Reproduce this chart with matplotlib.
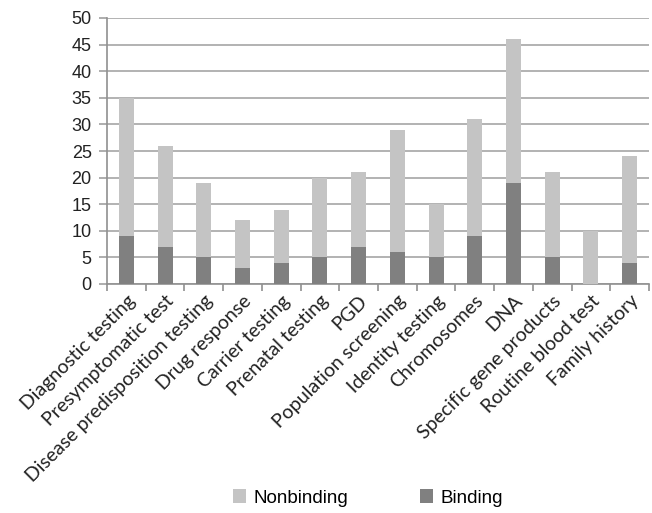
import matplotlib
matplotlib.use("Agg")
import matplotlib.pyplot as plt
import numpy as np

categories = ["Diagnostic testing", "Presymptomatic test", "Disease predisposition testing",
              "Drug response", "Carrier testing", "Prenatal testing", "PGD",
              "Population screening", "Identity testing", "Chromosomes", "DNA",
              "Specific gene products", "Routine blood test", "Family history"]
binding = [9, 7, 5, 3, 4, 5, 7, 6, 5, 9, 19, 5, 0, 4]
totals = [35, 26, 19, 12, 14, 20, 21, 29, 15, 31, 46, 21, 10, 24]
nonbinding = [t - b for t, b in zip(totals, binding)]
yticks = [0, 5, 10, 15, 20, 25, 30, 35, 40, 45, 50]

plt.rcParams['font.family'] = ['Liberation Sans', 'DejaVu Sans']

fig = plt.figure(figsize=(6.52, 5.13), dpi=100)
ax = fig.add_axes([107/652, 1-284/513, (649-107)/652, (284-18)/513])

x = np.arange(len(categories))
w = 0.39
ax.bar(x, binding, w, color='#808080', zorder=3, label='Binding')
ax.bar(x, nonbinding, w, bottom=binding, color='#c4c4c4', zorder=3, label='Nonbinding')

ax.set_xlim(-0.5, len(categories) - 0.5)
ax.set_ylim(0, 50)
ax.set_yticks(yticks)
ax.set_yticklabels([str(v) for v in yticks], fontsize=13, color='#222222')
ax.yaxis.grid(True, color='#a6a6a6', linewidth=1.2, zorder=0)
ax.tick_params(axis='y', length=6, width=1.2, color='#a0a0a0', pad=5)

ax.set_xticks(x)
ax.set_xticklabels(categories, rotation=45, ha='right', va='top', rotation_mode='anchor',
                   fontsize=14, color='#222222', family=['Lato', 'DejaVu Sans'])
ax.tick_params(axis='x', length=0, pad=6)
ax.set_xticks(np.arange(-0.5, len(categories), 1), minor=True)
ax.tick_params(axis='x', which='minor', length=5, color='#909090', width=1.2)

for s in ['top', 'right']:
    ax.spines[s].set_visible(False)
ax.spines['left'].set_color('#909090')
ax.spines['bottom'].set_color('#909090')
ax.spines['left'].set_linewidth(1.2)
ax.spines['bottom'].set_linewidth(1.2)

handles, labels = ax.get_legend_handles_labels()
fig.legend(handles[::-1], labels[::-1], loc='center', bbox_to_anchor=(368/652, 1-498/513),
           ncol=2, frameon=False, fontsize=13.5, handlelength=0.7, handleheight=0.7,
           handletextpad=0.4, columnspacing=3.8)

fig.savefig("out.png", dpi=100)
